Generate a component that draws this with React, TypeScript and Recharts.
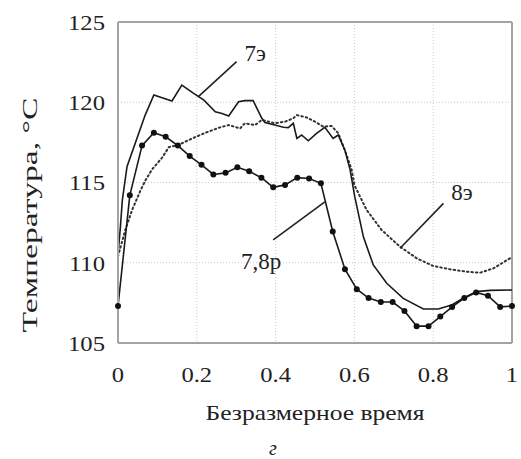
import {
  LineChart,
  Line,
  XAxis,
  YAxis,
  CartesianGrid,
  ReferenceLine,
  ReferenceDot,
  Label,
} from "recharts";

// 7,8р — measured with markers
const timeP = [
  0, 0.03, 0.061, 0.091, 0.121, 0.152, 0.182, 0.212, 0.242, 0.273, 0.303, 0.333,
  0.364, 0.394, 0.424, 0.455, 0.485, 0.515, 0.545, 0.576, 0.606, 0.636, 0.667,
  0.697, 0.727, 0.758, 0.788, 0.818, 0.848, 0.879, 0.909, 0.939, 0.97, 1,
];
const tempP = [
  107.3, 114.2, 117.3, 118.1, 117.85, 117.3, 116.65, 116.1, 115.5, 115.6, 115.95,
  115.7, 115.3, 114.7, 114.85, 115.3, 115.25, 114.95, 111.95, 109.6, 108.35,
  107.8, 107.55, 107.55, 107.0, 106.05, 106.05, 106.65, 107.25, 107.8, 108.15,
  107.95, 107.25, 107.3,
];

// 7э
const time7 = [
  0, 0.006, 0.011, 0.023, 0.069, 0.091, 0.112, 0.137, 0.162, 0.192, 0.218, 0.247,
  0.264, 0.281, 0.306, 0.322, 0.343, 0.365, 0.373, 0.398, 0.42, 0.432, 0.445,
  0.454, 0.466, 0.483, 0.504, 0.525, 0.546, 0.559, 0.576, 0.589, 0.601, 0.623,
  0.648, 0.682, 0.724, 0.775, 0.813, 0.847, 0.876, 0.91, 0.944, 1,
];
const temp7 = [
  110.5, 112.2, 113.9, 116.0, 119.2, 120.45, 120.28, 120.08, 121.07, 120.55,
  120.13, 119.4, 119.3, 119.14, 120.03, 120.1, 120.1, 119.0, 118.74, 118.58,
  118.44, 118.42, 118.69, 117.75, 117.96, 117.6, 118.06, 118.44, 117.75, 117.96,
  117.0, 115.8, 114.1, 111.6, 109.86, 108.72, 107.78, 107.12, 107.12, 107.37,
  107.79, 108.2, 108.28, 108.3,
];

// 8э
const time8 = [
  0, 0.018, 0.036, 0.057, 0.069, 0.086, 0.112, 0.129, 0.154, 0.188, 0.222, 0.256,
  0.281, 0.31, 0.322, 0.348, 0.365, 0.398, 0.424, 0.445, 0.454, 0.479, 0.5,
  0.521, 0.542, 0.559, 0.576, 0.593, 0.6, 0.631, 0.669, 0.716, 0.758, 0.8, 0.843,
  0.885, 0.919, 0.953, 0.995, 1,
];
const temp8 = [
  110.4, 112.0, 113.3, 114.5, 115.1, 115.8, 116.55, 117.2, 117.35, 117.74, 118.1,
  118.41, 118.58, 118.37, 118.69, 118.58, 118.9, 118.69, 118.79, 119.0, 119.2,
  119.05, 118.79, 118.48, 118.52, 118.07, 117.0, 115.8, 114.84, 113.29, 112.04,
  111.0, 110.28, 109.8, 109.59, 109.44, 109.38, 109.65, 110.28, 110.35,
];

const xTicks = [0, 0.2, 0.4, 0.6, 0.8, 1];
const yTicks = [105, 110, 115, 120, 125];

const toRows = (xs: number[], ys: number[]) => xs.map((x, i) => ({ x, t: ys[i] }));
const rowsP = toRows(timeP, tempP);
const rows7 = toRows(time7, temp7);
const rows8 = toRows(time8, temp8);

const serif = { fontFamily: "'Times New Roman', 'Liberation Serif', serif" };
const frame = "#a3a3a3";

function XTick({ x, y, payload }: any) {
  return (
    <text
      transform={`translate(${x},${y}) scale(1.12,1)`}
      textAnchor="middle"
      dy="0.71em"
      style={serif}
      fontSize={22}
      fill="#222"
    >
      {String(payload.value)}
    </text>
  );
}

function YTick({ x, y, payload }: any) {
  return (
    <text
      transform={`translate(${x},${y}) scale(1.12,1)`}
      textAnchor="end"
      dy="0.355em"
      style={serif}
      fontSize={22}
      fill="#222"
    >
      {String(payload.value)}
    </text>
  );
}

const note = (value: string) => ({
  value,
  position: "center" as const,
  style: serif,
  fontSize: 23,
  fill: "#222",
});

export default function App() {
  return (
    <div style={{ position: "absolute", left: 0, top: 0, background: "#fff" }}>
      <LineChart
        width={521}
        height={459}
        margin={{ top: 22, right: 9, bottom: 0, left: 0 }}
      >
        <CartesianGrid stroke="#c9c9c9" strokeDasharray="1 2" />
        <XAxis
          type="number"
          dataKey="x"
          domain={[0, 1]}
          ticks={xTicks}
          height={116}
          tickSize={0}
          tickMargin={23}
          tick={<XTick />}
          axisLine={{ stroke: frame, strokeWidth: 2 }}
          allowDuplicatedCategory={false}
        >
          <Label
            content={() => (
              <g style={serif} fill="#222">
                <text
                  x={315}
                  y={420}
                  textAnchor="middle"
                  fontSize={21}
                  textLength={219}
                  lengthAdjust="spacingAndGlyphs"
                  style={serif}
                >
                  Безразмерное время
                </text>
                <text
                  x={273}
                  y={455}
                  textAnchor="middle"
                  fontSize={20}
                  fontStyle="italic"
                  style={serif}
                >
                  г
                </text>
              </g>
            )}
          />
        </XAxis>
        <YAxis
          type="number"
          domain={[105, 125]}
          ticks={yTicks}
          width={118}
          tickSize={0}
          tickMargin={13}
          tick={<YTick />}
          axisLine={{ stroke: frame, strokeWidth: 2 }}
        >
          <Label
            content={() => (
              <text
                x={37}
                y={215}
                transform="rotate(-90 37 215)"
                textAnchor="middle"
                style={serif}
                fontSize={22}
                fill="#222"
                textLength={235}
                lengthAdjust="spacingAndGlyphs"
              >
                Температура, °C
              </text>
            )}
          />
        </YAxis>
        <ReferenceLine y={125} stroke={frame} strokeWidth={2} />
        <ReferenceLine x={1} stroke={frame} strokeWidth={2} />

        <Line
          data={rows8}
          dataKey="t"
          type="linear"
          stroke="#333"
          strokeWidth={2}
          strokeDasharray="1.5 3"
          strokeLinecap="round"
          dot={false}
          isAnimationActive={false}
        />
        <Line
          data={rows7}
          dataKey="t"
          type="linear"
          stroke="#1a1a1a"
          strokeWidth={1.6}
          dot={false}
          isAnimationActive={false}
        />
        <Line
          data={rowsP}
          dataKey="t"
          type="linear"
          stroke="#1a1a1a"
          strokeWidth={1.6}
          dot={{ r: 3, fill: "#111", stroke: "#111", strokeWidth: 0 }}
          isAnimationActive={false}
        />

        <ReferenceLine
          segment={[
            { x: 0.204, y: 120.35 },
            { x: 0.301, y: 122.53 },
          ]}
          stroke="#222"
          strokeWidth={1.6}
        />
        <ReferenceLine
          segment={[
            { x: 0.394, y: 111.42 },
            { x: 0.525, y: 113.79 },
          ]}
          stroke="#222"
          strokeWidth={1.6}
        />
        <ReferenceLine
          segment={[
            { x: 0.716, y: 110.9 },
            { x: 0.826, y: 113.7 },
          ]}
          stroke="#222"
          strokeWidth={1.6}
        />
        <ReferenceDot x={0.348} y={123.1} r={0} stroke="none" label={note("7э")} />
        <ReferenceDot x={0.363} y={110.1} r={0} stroke="none" label={note("7,8р")} />
        <ReferenceDot x={0.873} y={114.4} r={0} stroke="none" label={note("8э")} />
      </LineChart>
    </div>
  );
}
